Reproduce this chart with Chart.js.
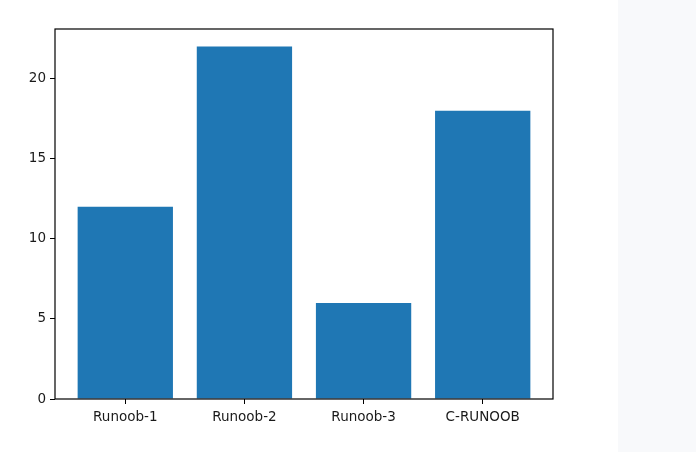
<!DOCTYPE html>
<html>
<head>
<meta charset="utf-8">
<script src="https://cdn.jsdelivr.net/npm/chart.js@4"></script>
<style>
  html, body { margin: 0; padding: 0; background: #f8f9fb; }
  #wrap { width: 618px; height: 452px; background: #ffffff; }
</style>
</head>
<body>
<div id="wrap"><canvas id="bar-chart" width="618" height="452"></canvas></div>
<script>
// Chart data
const categories = ['Runoob-1', 'Runoob-2', 'Runoob-3', 'C-RUNOOB'];
const values = [12, 22, 6, 18];
const yTicks = [0, 5, 10, 15, 20];

// Draw the box round the plot area, like matplotlib's spines
const framePlugin = {
    id: 'frame',
    afterDraw(chart) {
        const a = chart.chartArea;
        const ctx = chart.ctx;
        ctx.save();
        ctx.strokeStyle = '#000000';
        ctx.lineWidth = 1.2;
        ctx.strokeRect(a.left, a.top, a.right - a.left, a.bottom - a.top);
        ctx.restore();
    }
};

const tickFont = { family: 'DejaVu Sans', size: 13.5 };

const ctx = document.getElementById('bar-chart').getContext('2d');
new Chart(ctx, {
    type: 'bar',
    data: {
        datasets: [{
            data: values.map((v, i) => ({ x: i, y: v })),
            backgroundColor: '#1f77b4',
            borderWidth: 0,
            categoryPercentage: 1,
            barPercentage: 0.8
        }]
    },
    options: {
        responsive: false,
        animation: false,
        layout: { padding: { left: 0, right: 65, top: 29, bottom: 0 } },
        plugins: {
            legend: { display: false },
            tooltip: { enabled: false }
        },
        scales: {
            x: {
                type: 'linear',
                min: -0.59,
                max: 3.59,
                offset: false,
                grid: { offset: false, drawOnChartArea: false, drawTicks: true, tickLength: 5, color: '#000000', lineWidth: 1 },
                border: { display: false },
                ticks: {
                    color: '#1a1a1a',
                    font: tickFont,
                    padding: 5,
                    maxRotation: 0,
                    callback: (v) => categories[v] ?? ''
                },
                afterBuildTicks: (scale) => {
                    scale.ticks = categories.map((c, i) => ({ value: i }));
                },
                afterFit: (scale) => { scale.height = 53; }
            },
            y: {
                min: 0,
                max: 23.1,
                grid: { drawOnChartArea: false, drawTicks: true, tickLength: 5, color: '#000000', lineWidth: 1 },
                border: { display: false },
                ticks: {
                    color: '#1a1a1a',
                    font: tickFont,
                    padding: 4
                },
                afterBuildTicks: (scale) => {
                    scale.ticks = yTicks.map(v => ({ value: v }));
                },
                afterFit: (scale) => { scale.width = 55; }
            }
        }
    },
    plugins: [framePlugin]
});
</script>
</body>
</html>
